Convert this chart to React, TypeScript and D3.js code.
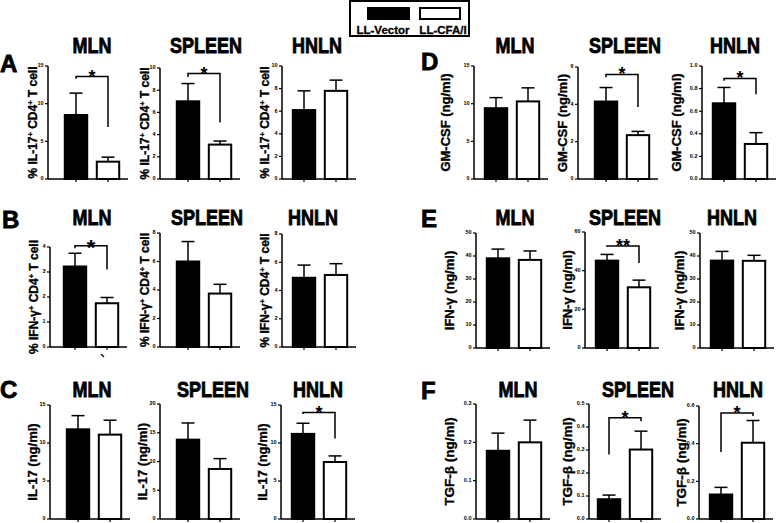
import React from 'react';
import * as d3 from 'd3';

// ---------- data ----------
const groups = ['LL-Vector', 'LL-CFA/I'];
const tissues = ['MLN', 'SPLEEN', 'HNLN'];
const panelLetters = ['A', 'B', 'C', 'D', 'E', 'F'];
const yLabels = [
  '% IL-17^+ CD4^+ T cell',
  '% IFN-γ^+ CD4^+ T cell',
  'IL-17 (ng/ml)',
  'GM-CSF (ng/ml)',
  'IFN-γ (ng/ml)',
  'TGF-β (ng/ml)',
];
const yMax = [[15, 10, 10], [4, 8, 8], [15, 20, 15], [15, 6, 1], [50, 60, 50], [0.3, 0.5, 0.6]];
const yStep = [[5, 2, 2], [1, 2, 2], [5, 5, 5], [5, 2, 0.2], [10, 20, 10], [0.1, 0.1, 0.2]];
const vectorMean = [[8.5, 7.0, 6.1], [3.22, 6.0, 4.9], [11.8, 13.8, 11.2], [9.4, 4.15, 0.67], [39, 45.2, 38], [0.178, 0.086, 0.13]];
const vectorSem = [[2.9, 1.6, 1.7], [0.53, 1.4, 0.9], [1.8, 2.9, 1.4], [1.4, 0.75, 0.14], [4, 3.2, 4], [0.046, 0.018, 0.038]];
const cfaMean = [[2.3, 3.1, 7.8], [1.75, 3.75, 5.1], [11.1, 8.7, 7.5], [10.3, 2.35, 0.31], [38.3, 31.4, 37.9], [0.2, 0.302, 0.405]];
const cfaSem = [[0.6, 0.32, 0.95], [0.23, 0.65, 0.8], [1.9, 1.8, 0.8], [1.8, 0.2, 0.1], [3.9, 3.7, 2.4], [0.058, 0.08, 0.118]];
// significance brackets: [top, left-leg end, right-leg end, label]
const sigBrackets: (null | [number, number, number, string])[][] = [
  [[13.6, 13.3, 6.9, '*'], [9.5, 9.2, 5.1, '*'], null],
  [[4.05, 3.95, 3.1, '*'], null, null],
  [null, null, [14.0, 13.8, 10.6, '*']],
  [null, [5.6, 5.45, 3.86, '*'], [0.89, 0.87, 0.75, '*']],
  [null, [52.8, 52.3, 44, '**'], null],
  [null, [0.44, 0.28, 0.425, '*'], [0.563, 0.356, 0.547, '*']],
];

// ---------- layout ----------
// [axisX, topY, bottomY, barOffset, yLabelOffset, titleX]
const layout = [
  [[48, 66, 179, 12, 15, 92], [160, 68, 179, 12, 15, 206], [282, 66, 179, 6, 17, 317]],
  [[50, 247, 347, 9, 16, 92], [160, 233, 347, 12, 15, 207], [282, 234, 347, 6, 17, 313]],
  [[50, 405, 519, 12, 17, 92], [160, 404, 519, 12, 17, 213], [281, 405, 519, 6, 18, 318]],
  [[474, 66, 179, 6, 28, 515], [578, 67, 179, 12, 15, 625], [702, 66, 179, 6, 25, 735]],
  [[476, 233, 348, 6, 26, 515], [585, 232, 348, 6, 17, 625], [700, 233, 348, 6, 20, 732]],
  [[476, 404, 519, 6, 26, 518], [589, 404, 519, 4, 21, 638], [699, 406, 519, 6, 17, 738]],
];
const titleBase = [53, 225, 397, 53, 225, 397];
const letterPos = [[0, 72], [2, 228], [0, 398], [421, 70], [421, 227], [421, 399]];
const labelSize = [12, 12, 13, 13, 13, 13.5];

const FONT = 'Liberation Sans, Arial, Helvetica, sans-serif';

function LabelText({ s }: { s: string }) {
  const parts = s.split(/(\^\+)/);
  return (
    <>
      {parts.map((p, i) =>
        p === '^+' ? (
          <tspan key={i} fontSize="0.62em" baselineShift="super">+</tspan>
        ) : (
          <tspan key={i}>{p}</tspan>
        )
      )}
    </>
  );
}

function Panel({ r, p }: { r: number; p: number }) {
  const [ax, top, bottom, off, lblOff, titleX] = layout[r][p];
  const max = yMax[r][p];
  const step = yStep[r][p];
  const y = d3.scaleLinear().domain([0, max]).range([bottom, top]);
  const x = d3
    .scaleBand<string>()
    .domain(groups)
    .range([ax + off, ax + off + 64])
    .paddingInner(0.3)
    .paddingOuter(0.15);
  const ticks = d3.range(0, max + step / 2, step);
  const fmt = step < 1 ? d3.format('.1f') : d3.format('d');
  const means = [vectorMean[r][p], cfaMean[r][p]];
  const sems = [vectorSem[r][p], cfaSem[r][p]];
  const bw = x.bandwidth();
  const cx = (g: string) => (x(g) as number) + bw / 2;
  const br = sigBrackets[r][p];
  const xEnd = ax + off + 68;
  return (
    <g>
      <text
        transform={`translate(${titleX},${titleBase[r]}) scale(1,1.2)`}
        textAnchor="middle"
        fontFamily={FONT}
        fontWeight="bold"
        fontSize={18}
        stroke="#000"
        strokeWidth={0.7}
      >
        {tissues[p]}
      </text>
      {/* y label */}
      <text
        transform={`translate(${ax - lblOff + 4},${(top + bottom) / 2}) rotate(-90)`}
        textAnchor="middle"
        fontFamily={FONT}
        fontWeight="bold"
        fontSize={labelSize[r]}
        stroke="#000"
        strokeWidth={0.35}
      >
        <LabelText s={yLabels[r]} />
      </text>
      {/* bars */}
      {groups.map((g, i) => (
        <g key={g}>
          <line x1={cx(g)} x2={cx(g)} y1={y(means[i])} y2={y(means[i] + sems[i])} stroke="#000" strokeWidth={1.5} />
          <line x1={cx(g) - 6.5} x2={cx(g) + 6.5} y1={y(means[i] + sems[i])} y2={y(means[i] + sems[i])} stroke="#000" strokeWidth={1.5} />
          <rect
            x={x(g)}
            y={y(means[i])}
            width={bw}
            height={bottom - y(means[i])}
            fill={i === 0 ? '#000' : '#fff'}
            stroke="#000"
            strokeWidth={2}
          />
        </g>
      ))}
      {/* y axis */}
      <line x1={ax} x2={ax} y1={top} y2={bottom} stroke="#000" strokeWidth={1.5} />
      {ticks.map((t) => (
        <g key={t}>
          <line x1={ax - 3} x2={ax} y1={y(t)} y2={y(t)} stroke="#000" strokeWidth={1.2} />
          <text
            x={ax - 4.5}
            y={y(t)}
            textAnchor="end"
            dominantBaseline="middle"
            fontFamily={FONT}
            fontWeight="bold"
            fontSize={5.5}
          >
            {fmt(t)}
          </text>
        </g>
      ))}
      {/* x axis */}
      <line x1={ax} x2={xEnd} y1={bottom} y2={bottom} stroke="#000" strokeWidth={1.5} />
      {groups.map((g) => (
        <line key={g} x1={cx(g)} x2={cx(g)} y1={bottom} y2={bottom + 3} stroke="#000" strokeWidth={1.2} />
      ))}
      {br && (
        <g>
          <path
            d={`M${cx(groups[0])},${y(br[1])}V${y(br[0])}H${cx(groups[1])}V${y(br[2])}`}
            fill="none"
            stroke="#000"
            strokeWidth={1.5}
          />
          <text
            x={(cx(groups[0]) + cx(groups[1])) / 2}
            y={y(br[0]) + (r === 1 ? 13 : 10)}
            dy={-4}
            textAnchor="middle"
            fontFamily={FONT}
            fontWeight="bold"
            fontSize={r === 1 ? 22 : 18}
          >
            {br[3]}
          </text>
        </g>
      )}
    </g>
  );
}

export default function App() {
  return (
    <div style={{ position: 'absolute', left: 0, top: 0 }}>
      <svg width={778} height={523} style={{ display: 'block', background: '#fff' }}>
        {/* legend */}
        <rect x={350} y={1} width={119} height={35} fill="#fff" stroke="#000" strokeWidth={2} />
        <rect x={367} y={7} width={43} height={13} fill="#000" />
        <rect x={420} y={8} width={40} height={11} fill="#fff" stroke="#000" strokeWidth={2} />
        <text x={383} y={34} textAnchor="middle" fontFamily={FONT} fontWeight="bold" fontSize={11.5} stroke="#000" strokeWidth={0.3}>
          {groups[0]}
        </text>
        <text x={443} y={34} textAnchor="middle" fontFamily={FONT} fontWeight="bold" fontSize={11.5} stroke="#000" strokeWidth={0.3}>
          {groups[1]}
        </text>
        {panelLetters.map((L, i) => (
          <text key={L} x={letterPos[i][0]} y={letterPos[i][1]} fontFamily={FONT} fontWeight="bold" fontSize={24} stroke="#000" strokeWidth={0.8}>
            {L}
          </text>
        ))}
        {layout.map((row, r) => row.map((_, p) => <Panel key={`${r}-${p}`} r={r} p={p} />))}
        {/* small stray mark under B MLN */}
        <line x1={101} x2={104} y1={354} y2={357} stroke="#000" strokeWidth={1.2} />
      </svg>
    </div>
  );
}
